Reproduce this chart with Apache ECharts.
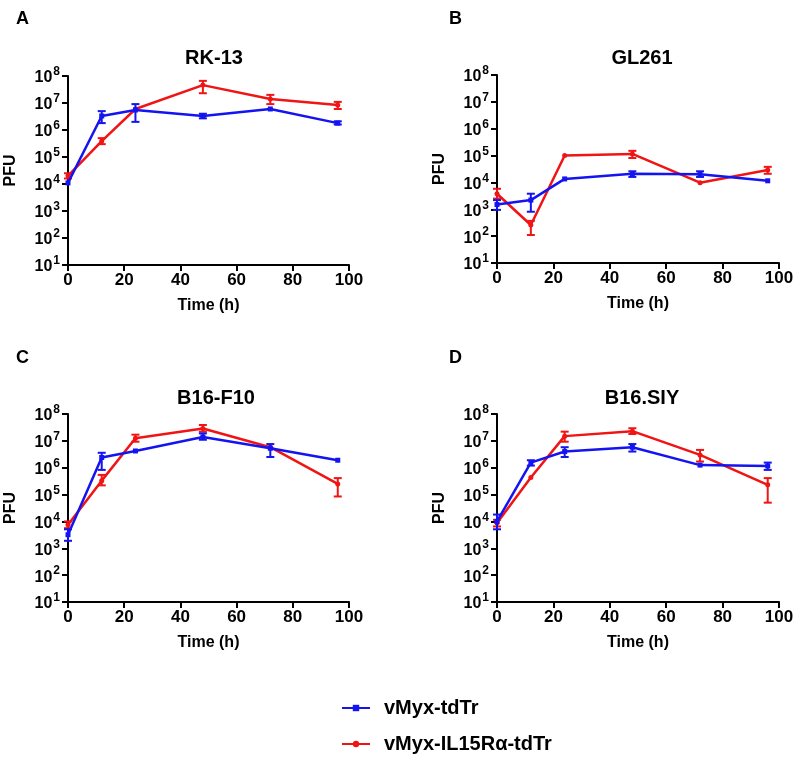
<!DOCTYPE html>
<html><head><meta charset="utf-8">
<script src="https://cdn.jsdelivr.net/npm/echarts@6/dist/echarts.min.js"></script>
<style>html,body{margin:0;padding:0;background:#fff}#c{width:797px;height:757px}</style>
</head><body><div id="c"></div>
<script>
const times = [0, 12, 24, 48, 72, 96];
const seriesNames = ['vMyx-tdTr', 'vMyx-IL15R\u03b1-tdTr'];
const panelTitles = ['RK-13', 'GL261', 'B16-F10', 'B16.SIY'];
const panelLetters = ['A', 'B', 'C', 'D'];
const xTicks = [0, 20, 40, 60, 80, 100];
const yTickExponents = [1, 2, 3, 4, 5, 6, 7, 8];

// Panel A: RK-13
const rkBlue   = [1.1e4, 3.3e6, 5.5e6, 3.3e6, 6.0e6, 1.8e6];
const rkBlueLo = [null, 1.8e6, 2.0e6, 2.7e6, null, 1.6e6];
const rkBlueHi = [null, 5.0e6, 9.1e6, 4.0e6, null, 2.1e6];
const rkRed    = [2.0e4, 3.9e5, 6.0e6, 4.6e7, 1.4e7, 8.5e6];
const rkRedLo  = [1.6e4, 3.0e5, null, 2.3e7, 9.1e6, 6.0e6];
const rkRedHi  = [2.5e4, 5.0e5, null, 6.6e7, 2.0e7, 1.1e7];

// Panel B: GL261
const glBlue   = [1.5e3, 2.2e3, 1.35e4, 2.1e4, 2.0e4, 1.15e4];
const glBlueLo = [9.5e2, 8.1e2, null, 1.6e4, 1.6e4, null];
const glBlueHi = [2.2e3, 3.8e3, null, 2.6e4, 2.6e4, null];
const glRed    = [3.8e3, 2.6e2, 1.0e5, 1.15e5, 9.8e3, 2.9e4];
const glRedLo  = [2.5e3, 1.1e2, null, 8.1e4, null, 2.1e4];
const glRedHi  = [5.8e3, 3.7e2, null, 1.5e5, null, 3.8e4];

// Panel C: B16-F10
const bfBlue   = [3.2e3, 2.4e6, 4.2e6, 1.4e7, 5.3e6, 1.9e6];
const bfBlueLo = [1.9e3, 8.3e5, null, 1.1e7, 2.5e6, null];
const bfBlueHi = [5.1e3, 3.6e6, null, 1.9e7, 7.6e6, null];
const bfRed    = [7.5e3, 3.3e5, 1.25e7, 2.9e7, 5.8e6, 2.5e5];
const bfRedLo  = [5.6e3, 2.2e5, 9.3e6, 2.2e7, null, 8.5e4];
const bfRedHi  = [1.0e4, 5.4e5, 1.7e7, 3.9e7, null, 4.1e5];

// Panel D: B16.SIY
const bsBlue   = [1.0e4, 1.55e6, 4.0e6, 5.8e6, 1.25e6, 1.17e6];
const bsBlueLo = [5.1e3, 1.2e6, 2.5e6, 4.0e6, null, 8.3e5];
const bsBlueHi = [1.8e4, 1.9e6, 5.8e6, 7.6e6, null, 1.55e6];
const bsRed    = [8.7e3, 4.3e5, 1.5e7, 2.3e7, 3.0e6, 2.3e5];
const bsRedLo  = [6.5e3, null, 9.3e6, 1.8e7, 1.7e6, 5.0e4];
const bsRedHi  = [1.15e4, null, 2.2e7, 2.95e7, 4.6e6, 4.1e5];

const panels = [
  {blue: rkBlue, blueLo: rkBlueLo, blueHi: rkBlueHi, red: rkRed, redLo: rkRedLo, redHi: rkRedHi},
  {blue: glBlue, blueLo: glBlueLo, blueHi: glBlueHi, red: glRed, redLo: glRedLo, redHi: glRedHi},
  {blue: bfBlue, blueLo: bfBlueLo, blueHi: bfBlueHi, red: bfRed, redLo: bfRedLo, redHi: bfRedHi},
  {blue: bsBlue, blueLo: bsBlueLo, blueHi: bsBlueHi, red: bsRed, redLo: bsRedLo, redHi: bsRedHi}
];

const BLUE = '#1414f0', RED = '#f01414';
const FONT = 'Liberation Sans, Arial, sans-serif';

const gridPos = [
  {left: 68, top: 76, width: 281, height: 189},
  {left: 497, top: 75, width: 282, height: 188},
  {left: 68, top: 414, width: 281, height: 188},
  {left: 497, top: 414, width: 282, height: 188}
];
const titlePos = [
  {x: 209, y: 43}, {x: 637, y: 43}, {x: 211, y: 383}, {x: 637, y: 383}
];
const letterPos = [
  {x: 11, y: 5}, {x: 444, y: 5}, {x: 11, y: 344}, {x: 444, y: 344}
];

const legendText = {fontFamily: FONT, fontWeight: 'bold', fontSize: 20, color: '#000', padding: [0, 0, 0, 9]};
const option = {
  animation: false,
  backgroundColor: '#fff',
  textStyle: {fontFamily: FONT},
  title: [],
  grid: [],
  xAxis: [],
  yAxis: [],
  series: [],
  legend: [
    {left: 336, top: 693, itemWidth: 28, itemHeight: 8, data: [seriesNames[0]], textStyle: legendText},
    {left: 336, top: 729, itemWidth: 28, itemHeight: 8, data: [seriesNames[1]], textStyle: legendText}
  ]
};

function errItem(color) {
  return function (params, api) {
    const x = api.value(0), lo = api.value(1), hi = api.value(2);
    const p1 = api.coord([x, lo]), p2 = api.coord([x, hi]);
    const w = 4;
    const st = {stroke: color, lineWidth: 2};
    return {type: 'group', children: [
      {type: 'line', shape: {x1: p1[0], y1: p1[1], x2: p2[0], y2: p2[1]}, style: st},
      {type: 'line', shape: {x1: p1[0] - w, y1: p1[1], x2: p1[0] + w, y2: p1[1]}, style: st},
      {type: 'line', shape: {x1: p2[0] - w, y1: p2[1], x2: p2[0] + w, y2: p2[1]}, style: st}
    ]};
  };
}

panels.forEach((p, i) => {
  option.title.push({text: panelTitles[i], left: titlePos[i].x, top: titlePos[i].y, textAlign: 'center',
    textStyle: {fontFamily: FONT, fontWeight: 'bold', fontSize: 20, color: '#000'}});
  option.title.push({text: panelLetters[i], left: letterPos[i].x, top: letterPos[i].y,
    textStyle: {fontFamily: FONT, fontWeight: 'bold', fontSize: 18, color: '#000'}});
  option.grid.push(Object.assign({containLabel: false}, gridPos[i]));
  option.xAxis.push({
    gridIndex: i, type: 'value', min: 0, max: 100, interval: 20,
    name: 'Time (h)', nameLocation: 'middle', nameGap: 33,
    nameTextStyle: {fontFamily: FONT, fontWeight: 'bold', fontSize: 16, color: '#000'},
    axisLine: {lineStyle: {color: '#000', width: 2}},
    axisTick: {show: true, length: 6, lineStyle: {color: '#000', width: 2}},
    axisLabel: {fontFamily: FONT, fontWeight: 'bold', fontSize: 17, color: '#000', margin: 7,
      formatter: v => xTicks.includes(v) ? String(v) : ''},
    splitLine: {show: false}
  });
  option.yAxis.push({
    gridIndex: i, type: 'log', logBase: 10, min: 10, max: 1e8,
    name: 'PFU', nameLocation: 'middle', nameGap: 49,
    nameTextStyle: {fontFamily: FONT, fontWeight: 'bold', fontSize: 16, color: '#000'},
    axisLine: {show: true, lineStyle: {color: '#000', width: 2}},
    axisTick: {show: true, length: 6, lineStyle: {color: '#000', width: 2}},
    axisLabel: {color: '#000', margin: 8,
      formatter: v => {
        const e = Math.round(Math.log10(v));
        return yTickExponents.includes(e) ? '{b|10}{s|' + e + '}' : '';
      },
      rich: {
        b: {fontFamily: FONT, fontWeight: 'bold', fontSize: 16, color: '#000', verticalAlign: 'bottom', lineHeight: 20},
        s: {fontFamily: FONT, fontWeight: 'bold', fontSize: 12, color: '#000', verticalAlign: 'top', lineHeight: 20, padding: [0, 0, 12, 1]}
      }
    },
    splitLine: {show: false}
  });
  const groups = [
    {name: seriesNames[0], d: p.blue, lo: p.blueLo, hi: p.blueHi, color: BLUE, sym: 'rect', z: 4},
    {name: seriesNames[1], d: p.red, lo: p.redLo, hi: p.redHi, color: RED, sym: 'circle', z: 3}
  ];
  groups.forEach(g => {
    option.series.push({
      name: g.name, type: 'line', xAxisIndex: i, yAxisIndex: i, z: g.z,
      data: times.map((t, k) => [t, g.d[k]]),
      symbol: g.sym, symbolSize: 5, showSymbol: true,
      lineStyle: {color: g.color, width: 2.5}, itemStyle: {color: g.color}
    });
    const errData = [];
    times.forEach((t, k) => { if (g.lo[k] != null && g.hi[k] != null) errData.push([t, g.lo[k], g.hi[k]]); });
    option.series.push({
      name: g.name + ' err', type: 'custom', xAxisIndex: i, yAxisIndex: i, z: g.z,
      renderItem: errItem(g.color), data: errData, encode: {x: 0, y: [1, 2]}, silent: true
    });
  });
});

const chart = echarts.init(document.getElementById('c'), null, {renderer: 'canvas'});
chart.setOption(option);
</script></body></html>
